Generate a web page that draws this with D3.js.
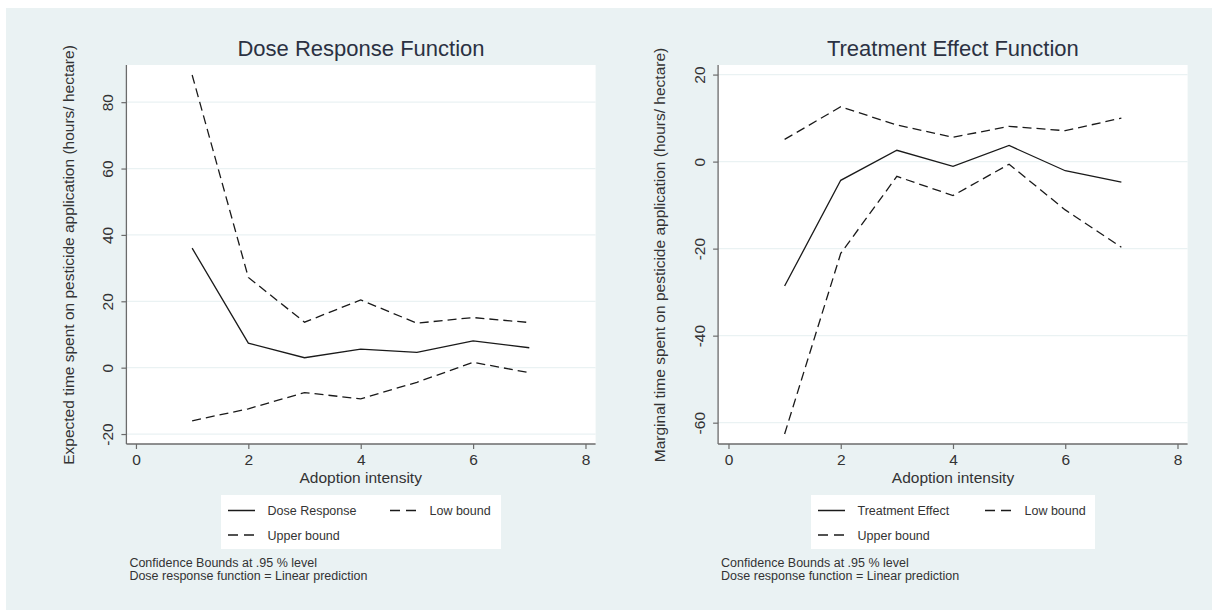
<!DOCTYPE html>
<html>
<head>
<meta charset="utf-8">
<script src="https://cdn.jsdelivr.net/npm/d3@7"></script>
<style>
  html, body { margin: 0; padding: 0; background: #ffffff; }
  svg { display: block; font-family: "Liberation Sans", Arial, sans-serif; }
</style>
</head>
<body>
<svg id="chart" width="1212" height="610"></svg>
<script>
// Adoption intensity levels
const intensity = [1, 2, 3, 4, 5, 6, 7];

// Dose response function and its 95% bounds
const doseResponse = [36.0, 7.4, 3.0, 5.6, 4.6, 8.1, 6.0];
const doseUpper    = [88.2, 27.2, 13.7, 20.4, 13.4, 15.1, 13.6];
const doseLow      = [-16.0, -12.4, -7.5, -9.4, -4.4, 1.6, -1.5];

// Treatment effect function and its 95% bounds
const treatEffect = [-28.6, -4.3, 2.6, -1.1, 3.7, -2.1, -4.7];
const treatUpper  = [5.1, 12.6, 8.4, 5.6, 8.1, 7.1, 10.0];
const treatLow    = [-62.6, -21.1, -3.4, -7.8, -0.6, -11.1, -19.7];

// Tick values
const xTicks = [0, 2, 4, 6, 8];
const doseYTicks = [-20, 0, 20, 40, 60, 80];
const treatYTicks = [-60, -40, -20, 0, 20];

const noteLines = ["Confidence Bounds at .95 % level", "Dose response function = Linear prediction"];

const svg = d3.select("#chart");
const bg = "#eaf2f3";
const ink = "#1a1a1a";
const dash = "9,5";
const plain = d => String(d);   // plain hyphen for negative ticks

// graph background
svg.append("rect").attr("x", 6).attr("y", 8).attr("width", 1206).attr("height", 602).attr("fill", bg);

function panel(cfg) {
  const g = svg.append("g");
  const x = d3.scaleLinear().domain(cfg.xDomain).range([cfg.left, cfg.right]);
  const y = d3.scaleLinear().domain(cfg.yDomain).range([cfg.bottom, cfg.top]);

  // plot region
  g.append("rect")
    .attr("x", cfg.left).attr("y", cfg.top)
    .attr("width", cfg.right - cfg.left).attr("height", cfg.bottom - cfg.top)
    .attr("fill", "#ffffff");

  // horizontal grid
  g.append("g").selectAll("line").data(cfg.yTicks).join("line")
    .attr("x1", cfg.left).attr("x2", cfg.right)
    .attr("y1", d => y(d)).attr("y2", d => y(d))
    .attr("stroke", bg).attr("stroke-width", 1.2);

  // title
  g.append("text")
    .attr("x", (cfg.left + cfg.right) / 2).attr("y", 56)
    .attr("text-anchor", "middle")
    .attr("font-size", 22).attr("fill", "#2b3142")
    .text(cfg.title);

  // y axis
  const yAxis = g.append("g")
    .attr("transform", `translate(${cfg.left},0)`)
    .call(d3.axisLeft(y).tickValues(cfg.yTicks).tickFormat(plain).tickSize(5).tickSizeOuter(0));
  yAxis.select(".domain").attr("stroke", "#6b6b6b").attr("stroke-width", 1.3)
    .attr("d", `M0,${cfg.top}V${cfg.bottom}`);
  yAxis.selectAll(".tick line").attr("stroke", "#6b6b6b").attr("stroke-width", 1.2);
  yAxis.selectAll(".tick text")
    .attr("transform", "rotate(-90)")
    .attr("x", 0).attr("y", -13.5).attr("dy", 0)
    .attr("text-anchor", "middle")
    .attr("font-size", 15.5).attr("fill", "#333")
    .attr("font-family", "Liberation Sans, Arial, sans-serif");

  // x axis
  const xAxis = g.append("g")
    .attr("transform", `translate(0,${cfg.bottom})`)
    .call(d3.axisBottom(x).tickValues(xTicks).tickFormat(plain).tickSize(5).tickSizeOuter(0));
  xAxis.select(".domain").attr("stroke", "#6b6b6b").attr("stroke-width", 1.3)
    .attr("d", `M${cfg.left},0H${cfg.right}`);
  xAxis.selectAll(".tick line").attr("stroke", "#6b6b6b").attr("stroke-width", 1.2);
  xAxis.selectAll(".tick text")
    .attr("y", 10).attr("dy", "0.71em")
    .attr("font-size", 15.5).attr("fill", "#333")
    .attr("font-family", "Liberation Sans, Arial, sans-serif");

  // axis titles
  g.append("text")
    .attr("x", (x(0) + x(8)) / 2).attr("y", 482.5)
    .attr("text-anchor", "middle").attr("font-size", 15.5).attr("fill", "#333")
    .text("Adoption intensity");
  g.append("text")
    .attr("transform", `translate(${cfg.yTitleX},${(cfg.top + cfg.bottom) / 2 + 0.5}) rotate(-90)`)
    .attr("text-anchor", "middle").attr("font-size", 15.5).attr("fill", "#333")
    .text(cfg.yTitle);

  // series
  const line = d3.line().x((d, i) => x(intensity[i])).y(d => y(d));
  const series = [
    { values: cfg.upper, dashed: true },
    { values: cfg.low, dashed: true },
    { values: cfg.main, dashed: false }
  ];
  g.append("g").selectAll("path").data(series).join("path")
    .attr("d", d => line(d.values))
    .attr("fill", "none").attr("stroke", ink).attr("stroke-width", 1.3)
    .attr("stroke-dasharray", d => d.dashed ? dash : null);

  // legend
  const lg = g.append("g").attr("transform", `translate(${cfg.legendX},495)`);
  lg.append("rect").attr("width", cfg.legendW).attr("height", 54).attr("fill", "#ffffff");
  const items = [
    { label: cfg.mainLabel, dashed: false, col: 0, row: 0 },
    { label: "Low bound", dashed: true, col: 1, row: 0 },
    { label: "Upper bound", dashed: true, col: 0, row: 1 }
  ];
  const it = lg.selectAll("g.item").data(items).join("g")
    .attr("class", "item")
    .attr("transform", d => `translate(${7 + d.col * cfg.legendCol},${15.5 + d.row * 24.5})`);
  it.append("line").attr("x1", 0).attr("x2", 27)
    .attr("stroke", ink).attr("stroke-width", 1.5)
    .attr("stroke-dasharray", d => d.dashed ? "10,6" : null);
  it.append("text").attr("x", 39.5).attr("y", 4.5)
    .attr("font-size", 12.5).attr("fill", "#333")
    .text(d => d.label);

  // notes
  g.append("g").selectAll("text").data(noteLines).join("text")
    .attr("x", cfg.left + 3).attr("y", (d, i) => 566.5 + i * 13)
    .attr("font-size", 12.5).attr("fill", "#333")
    .text(d => d);
}

panel({
  title: "Dose Response Function",
  yTitle: "Expected time spent on pesticide application (hours/ hectare)",
  left: 126.4, right: 595.6, top: 65, bottom: 444,
  xDomain: [-0.17, 8.18], yDomain: [-23.0, 91.2],
  yTicks: doseYTicks, yTitleX: 73.5,
  main: doseResponse, upper: doseUpper, low: doseLow,
  mainLabel: "Dose Response",
  legendX: 221, legendW: 280, legendCol: 162
});

panel({
  title: "Treatment Effect Function",
  yTitle: "Marginal time spent on pesticide application (hours/ hectare)",
  left: 718.1, right: 1187.6, top: 65, bottom: 444,
  xDomain: [-0.185, 8.18], yDomain: [-64.9, 22.2],
  yTicks: treatYTicks, yTitleX: 665,
  main: treatEffect, upper: treatUpper, low: treatLow,
  mainLabel: "Treatment Effect",
  legendX: 811, legendW: 284, legendCol: 167
});
</script>
</body>
</html>
